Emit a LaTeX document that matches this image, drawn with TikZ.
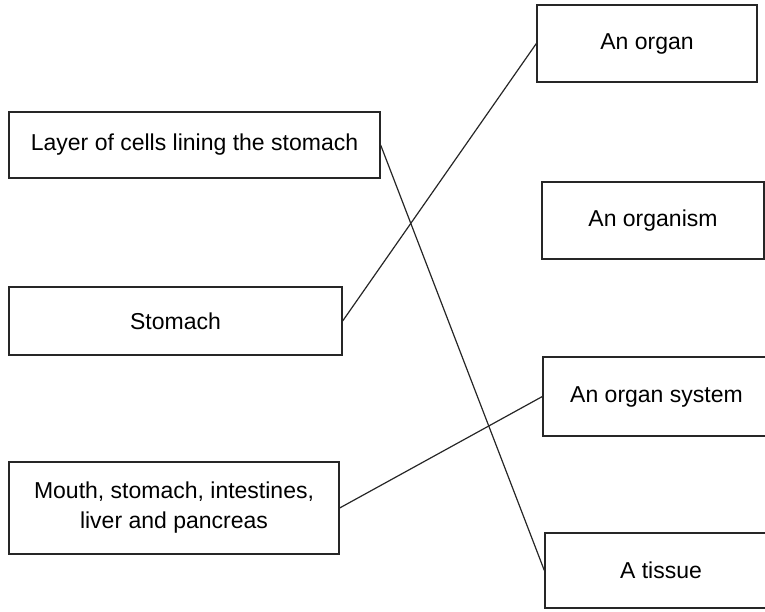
\documentclass[tikz,border=0pt]{standalone}
\usepackage{fontspec}
\setmainfont{Liberation Sans}
\usetikzlibrary{positioning}

\begin{document}
\begin{tikzpicture}[
				x=1pt,y=-1pt,
				item/.style={
					draw=black!85,
					line width=1.3pt,
					rectangle,
					align=center,
					inner sep=0pt,
					font=\fontsize{23}{30}\selectfont
				},
				match/.style={
					draw=black!85,
					line width=1.2pt
				}
			]
			\useasboundingbox (0,0) rectangle (765,611);
			% left column
			\node[item,minimum width=371pt,minimum height=66pt] 
			(layer) at (194.5,145) {Layer of cells lining the stomach};
			\node[item,minimum width=333pt,minimum height=68pt] 
			(stomach) at (175.5,321) {Stomach};
			\node[item,minimum width=330pt,minimum height=92pt] 
			(mouth) at (174,508) {Mouth, stomach, intestines,\\ liver and pancreas};
			% right column
			\node[item,minimum width=220pt,minimum height=77pt] 
			(organ) at (647,43.5) {An organ};
			\node[item,minimum width=222pt,minimum height=77pt] 
			(organism) at (653,220.5) {An organism};
			\node[item,minimum width=227pt,minimum height=79pt] 
			(system) at (656.5,396.5) {An organ system};
			\node[item,minimum width=232pt,minimum height=75pt] 
			(tissue) at (661,570.5) {A tissue};
																																			
			\draw[match] (layer.east) -- (tissue.west);
			\draw[match] (stomach.east) -- (organ.west);
			\draw[match] (mouth.east) -- (system.west);
		\end{tikzpicture}
\end{document}
